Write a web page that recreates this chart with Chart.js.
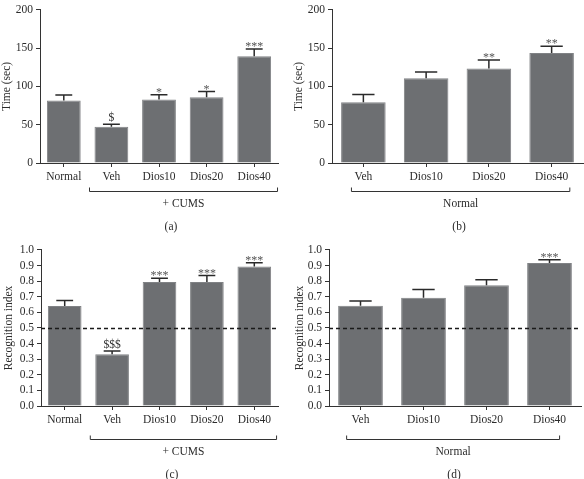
<!DOCTYPE html>
<html>
<head>
<meta charset="utf-8">
<script src="https://cdn.jsdelivr.net/npm/chart.js@4"></script>
<style>
  html, body { margin: 0; padding: 0; background: #fff; }
  #wrap { position: relative; width: 584px; height: 479px; overflow: hidden; }
  #wrap canvas { position: absolute; }
</style>
</head>
<body>
<div id="wrap">
  <canvas id="chartA" width="292" height="240" style="left:0;top:0"></canvas>
  <canvas id="chartB" width="292" height="240" style="left:292px;top:0"></canvas>
  <canvas id="chartC" width="292" height="239" style="left:0;top:240px"></canvas>
  <canvas id="chartD" width="292" height="239" style="left:292px;top:240px"></canvas>
</div>
<script>
// data
var cumsGroups = ['Normal', 'Veh', 'Dios10', 'Dios20', 'Dios40'];
var normalGroups = ['Veh', 'Dios10', 'Dios20', 'Dios40'];

var timeCums = [81.6, 47.4, 82.9, 85.8, 139.5];
var timeCumsErr = [7.2, 3.3, 6.4, 7.6, 9.3];
var timeCumsMarks = ['', '$', '*', '*', '***'];

var timeNormal = [79.5, 110.8, 123.5, 143.8];
var timeNormalErr = [10.1, 8.0, 11.0, 8.8];
var timeNormalMarks = ['', '', '**', '**'];

var riCums = [0.641, 0.332, 0.794, 0.794, 0.893];
var riCumsErr = [0.035, 0.021, 0.025, 0.042, 0.025];
var riCumsMarks = ['', '$$$', '***', '***', '***'];

var riNormal = [0.643, 0.693, 0.773, 0.916];
var riNormalErr = [0.029, 0.053, 0.036, 0.021];
var riNormalMarks = ['', '', '', '***'];

var chanceLevel = 0.5;

var FONT = 'Liberation Serif, Times New Roman, serif';
var FSIZE = 11.5;
var TEXT = '#2b2b2b';
var AXIS = '#333';

// error bars, significance marks, dashed chance line, group bracket, panel letter
const extras = {
    id: 'extras',
    afterDatasetsDraw(chart, args, o) {
        const ctx = chart.ctx;
        const xs = chart.scales.x, ys = chart.scales.y;
        const area = chart.chartArea;
        const meta = chart.getDatasetMeta(0);
        const vals = chart.data.datasets[0].data;

        ctx.save();
        if (o.threshold != null) {
            const ty = Math.round(ys.getPixelForValue(o.threshold)) + 0.5;
            ctx.strokeStyle = '#1a1a1a';
            ctx.lineWidth = 1.3;
            ctx.setLineDash([4, 3]);
            ctx.beginPath();
            ctx.moveTo(area.left, ty);
            ctx.lineTo(area.right, ty);
            ctx.stroke();
            ctx.setLineDash([]);
        }

        meta.data.forEach((bar, i) => {
            const top = ys.getPixelForValue(vals[i]);
            const tip = ys.getPixelForValue(vals[i] + o.errors[i]);
            const half = bar.width * 0.25;
            ctx.strokeStyle = '#2a2a2a';
            ctx.lineWidth = 1.5;
            ctx.beginPath();
            ctx.moveTo(bar.x, top);
            ctx.lineTo(bar.x, tip);
            ctx.moveTo(bar.x - half, tip);
            ctx.lineTo(bar.x + half, tip);
            ctx.stroke();

            const m = o.marks[i];
            if (m) {
                const isStar = m.indexOf('*') >= 0;
                ctx.fillStyle = isStar ? '#555' : '#2b2b2b';
                ctx.font = (isStar ? 12 : FSIZE) + 'px ' + FONT;
                ctx.textAlign = 'center';
                ctx.textBaseline = 'alphabetic';
                ctx.fillText(m, bar.x, tip - (isStar ? -1 : 3));
            }
        });

        // bracket under grouped bars
        const b = o.bracket;
        const cw = xs.getPixelForValue(1) - xs.getPixelForValue(0);
        const x1 = xs.getPixelForValue(b.from) + b.fromOff * cw;
        const x2 = xs.getPixelForValue(b.to) + b.toOff * cw;
        const by = b.y + 0.5;
        ctx.strokeStyle = AXIS;
        ctx.lineWidth = 1;
        ctx.beginPath();
        ctx.moveTo(x1, by - 4);
        ctx.lineTo(x1, by);
        ctx.lineTo(x2, by);
        ctx.lineTo(x2, by - 4);
        ctx.stroke();

        ctx.fillStyle = TEXT;
        ctx.font = FSIZE + 'px ' + FONT;
        ctx.textAlign = 'center';
        ctx.textBaseline = 'middle';
        ctx.fillText(b.label, (x1 + x2) / 2, b.labelY);
        ctx.fillText(o.panel.text, o.panel.x, o.panel.y);
        ctx.restore();
    }
};

function makeChart(id, labels, values, opts) {
    return new Chart(document.getElementById(id), {
        type: 'bar',
        data: {
            labels: labels,
            datasets: [{
                data: values,
                backgroundColor: '#6d6f72',
                borderColor: '#808285',
                borderWidth: 1,
                categoryPercentage: 1,
                barPercentage: 0.71,
            }],
        },
        options: {
            responsive: false,
            animation: false,
            devicePixelRatio: 1,
            layout: { padding: { left: 0, top: opts.padTop, right: opts.padRight, bottom: 0 } },
            plugins: {
                legend: { display: false },
                tooltip: { enabled: false },
                extras: opts.extras,
            },
            scales: {
                x: {
                    grid: { display: true, drawOnChartArea: false, offset: false, tickLength: 4, color: AXIS },
                    border: { color: AXIS, width: 1 },
                    ticks: { color: TEXT, padding: 3, font: { family: FONT, size: FSIZE }, maxRotation: 0, autoSkip: false },
                    afterFit: s => { s.height = opts.xHeight; },
                },
                y: {
                    min: 0,
                    max: opts.yMax,
                    grid: { display: true, drawOnChartArea: false, tickLength: 4, color: AXIS },
                    border: { color: AXIS, width: 1 },
                    ticks: {
                        stepSize: opts.step,
                        autoSkip: false,
                        color: TEXT,
                        padding: 3,
                        font: { family: FONT, size: FSIZE },
                        callback: v => opts.decimals ? Number(v).toFixed(opts.decimals) : v,
                    },
                    title: { display: true, text: opts.yTitle, color: TEXT, padding: { top: opts.titlePad, bottom: 0 }, font: { family: FONT, size: FSIZE } },
                    afterFit: s => { s.width = opts.yWidth; },
                },
            },
        },
        plugins: [extras],
    });
}

makeChart('chartA', cumsGroups, timeCums, {
    padTop: 5, padRight: 14, xHeight: 77, yWidth: 40, yMax: 200, step: 50, decimals: 0,
    yTitle: 'Time (sec)', titlePad: 0,
    extras: {
        errors: timeCumsErr, marks: timeCumsMarks,
        bracket: { from: 1, to: 4, fromOff: -0.46, toOff: 0.49, y: 191, label: '+ CUMS', labelY: 204 },
        panel: { text: '(a)', x: 171, y: 227 },
    },
});

makeChart('chartB', normalGroups, timeNormal, {
    padTop: 5, padRight: 1, xHeight: 77, yWidth: 40, yMax: 200, step: 50, decimals: 0,
    yTitle: 'Time (sec)', titlePad: 0,
    extras: {
        errors: timeNormalErr, marks: timeNormalMarks,
        bracket: { from: 0, to: 3, fromOff: -0.19, toOff: 0.29, y: 191, label: 'Normal', labelY: 204 },
        panel: { text: '(b)', x: 167, y: 227 },
    },
});

makeChart('chartC', cumsGroups, riCums, {
    padTop: 7, padRight: 14, xHeight: 73, yWidth: 41, yMax: 1, step: 0.1, decimals: 1,
    yTitle: 'Recognition index', titlePad: 2,
    extras: {
        errors: riCumsErr, marks: riCumsMarks, threshold: chanceLevel,
        bracket: { from: 1, to: 4, fromOff: -0.46, toOff: 0.47, y: 199, label: '+ CUMS', labelY: 212 },
        panel: { text: '(c)', x: 172, y: 235 },
    },
});

makeChart('chartD', normalGroups, riNormal, {
    padTop: 7, padRight: 3, xHeight: 73, yWidth: 37, yMax: 1, step: 0.1, decimals: 1,
    yTitle: 'Recognition index', titlePad: 1,
    extras: {
        errors: riNormalErr, marks: riNormalMarks, threshold: chanceLevel,
        bracket: { from: 0, to: 3, fromOff: -0.22, toOff: 0.16, y: 199, label: 'Normal', labelY: 212 },
        panel: { text: '(d)', x: 162, y: 235 },
    },
});
</script>
</body>
</html>
